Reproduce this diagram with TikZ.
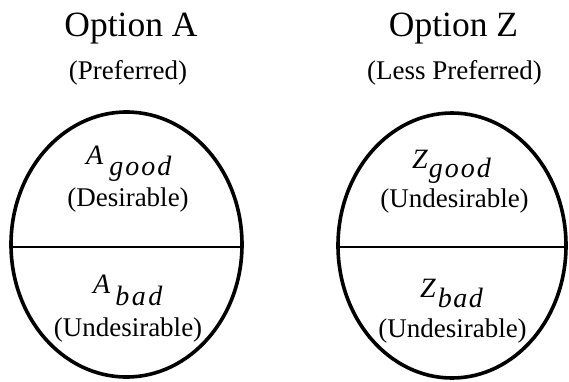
\documentclass[tikz,border=0pt]{standalone}
\usepackage{fontspec}
\setmainfont{Liberation Serif}
\usetikzlibrary{shapes.geometric}
\begin{document}
\begin{tikzpicture}[x=1pt,y=-1pt,
  oval/.style={ellipse, draw, line width=3.6pt, inner sep=0pt, minimum width=231pt, minimum height=265pt},
  divider/.style={line width=1.8pt},
  titletext/.style={font=\fontsize{35.5}{38}\selectfont, anchor=base, inner sep=0pt},
  subtext/.style={font=\fontsize{27}{30}\selectfont, anchor=base, inner sep=0pt},
  vartext/.style={font=\fontsize{28}{30}\selectfont\itshape, anchor=base west, inner sep=0pt}]
\useasboundingbox (0,0) rectangle (569,381);
% Option A
\node[titletext] (tA) at (131,36) {Option A};
\node[subtext] (pA) at (128,79) {(Preferred)};
\node[oval] (eA) at (126.5,244.5) {};
\draw[divider] ([yshift=-2.5pt]eA.west) -- ([yshift=-2.5pt]eA.east);
\node[vartext] (gA) at (86,164) {A\kern6pt\raisebox{-11pt}{g\kern2pt o\kern2pt o\kern2pt d}};
\node[subtext] (dA) at (128,206) {(Desirable)};
\node[vartext] (bA) at (93,293) {A\kern5pt\raisebox{-12pt}{b\kern2.5pt a\kern2.5pt d}};
\node[subtext] (uA) at (128,336) {(Undesirable)};
% Option Z
\node[titletext] (tZ) at (453.5,36) {Option Z};
\node[subtext] (pZ) at (454.5,79) {(Less Preferred)};
\node[oval, minimum width=228pt] (eZ) at (452,245.5) {};
\draw[divider] ([yshift=-1.5pt]eZ.west) -- ([yshift=-1.5pt]eZ.east);
\node[vartext] (gZ) at (412,168) {Z\kern1pt\raisebox{-9pt}{g\kern2pt o\kern2pt o\kern2pt d}};
\node[subtext] (dZ) at (454.5,207) {(Undesirable)};
\node[vartext] (bZ) at (420,297) {Z\kern2pt\raisebox{-10pt}{b\kern1.5pt a\kern1.5pt d}};
\node[subtext] (uZ) at (452.5,337) {(Undesirable)};
\end{tikzpicture}
\end{document}
